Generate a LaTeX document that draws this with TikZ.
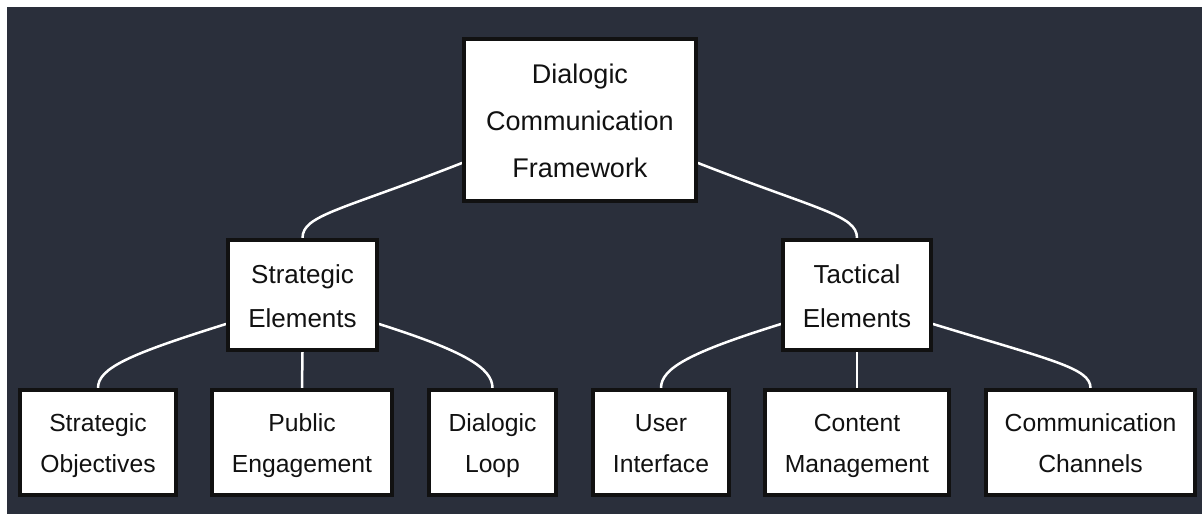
\documentclass[tikz,border=0pt]{standalone}
\usepackage{fontspec}
\setmainfont{Liberation Sans}
\usetikzlibrary{backgrounds}
\definecolor{canvas}{RGB}{42,47,59}
\definecolor{ink}{RGB}{17,17,17}
% struts that fix the first-line height and last-line depth of each label
\newcommand\leafup{\rule{0pt}{24.5pt}}
\newcommand\leafdown{\rule[-5.5pt]{0pt}{5.5pt}}
\newcommand\bigup{\rule{0pt}{26pt}}
\newcommand\bigdown{\rule[-6pt]{0pt}{6pt}}
\begin{document}
\begin{tikzpicture}[x=1pt,y=-1pt,
  box/.style={draw=ink, fill=white, line width=4pt, align=center, inner sep=0pt, text=ink},
  rootbox/.style={box, font=\fontsize{27}{47}\selectfont},
  midbox/.style={box, font=\fontsize{26}{44}\selectfont, minimum height=110pt},
  leafbox/.style={box, font=\fontsize{24.7}{41}\selectfont, minimum height=105pt},
  link/.style={draw=white, line width=2.5pt, line cap=round}]
\useasboundingbox (0,0) rectangle (1202,514);

% framework root
\node[rootbox, minimum width=232pt, minimum height=162pt] (root) at (580,120)
  {\bigup Dialogic\\Communication\\Framework\bigdown};

% second level
\node[midbox, minimum width=149pt] (strat) at (302.5,295) {\bigup Strategic\\Elements\bigdown};
\node[midbox, minimum width=148pt] (tact) at (857,295) {\bigup Tactical\\Elements\bigdown};

% leaves
\node[leafbox, minimum width=156pt] (obj) at (98,442.5) {\leafup Strategic\\Objectives\leafdown};
\node[leafbox, minimum width=180pt] (pub) at (302,442.5) {\leafup Public\\Engagement\leafdown};
\node[leafbox, minimum width=127pt] (loop) at (492.5,442.5) {\leafup Dialogic\\Loop\leafdown};
\node[leafbox, minimum width=136pt] (ui) at (661,442.5) {\leafup User\\Interface\leafdown};
\node[leafbox, minimum width=184pt] (cm) at (857,442.5) {\leafup Content\\Management\leafdown};
\node[leafbox, minimum width=209pt] (cc) at (1090.5,442.5) {\leafup Communication\\Channels\leafdown};

\begin{pgfonlayer}{background}
  \fill[white] (0,0) rectangle (1202,514);
  \fill[canvas] (7,7) rectangle (1202,514);

  \draw[link] ([yshift=-43pt]root.west) .. controls +(-120,47) and +(0,-23) .. (strat.north);
  \draw[link] ([yshift=-43pt]root.east) .. controls +(120,47) and +(0,-23) .. (tact.north);

  \draw[link] ([yshift=-29pt]strat.west) .. controls +(-96,30) and +(0,-20) .. (obj.north);
  \draw[link] (strat.south) -- (pub.north);
  \draw[link] ([yshift=-29pt]strat.east) .. controls +(85,27) and +(0,-20) .. (loop.north);

  \draw[link] ([yshift=-29pt]tact.west) .. controls +(-90,28) and +(0,-20) .. (ui.north);
  \draw[link] (tact.south) -- (cm.north);
  \draw[link] ([yshift=-29pt]tact.east) .. controls +(118,36) and +(0,-20) .. (cc.north);
\end{pgfonlayer}
\end{tikzpicture}
\end{document}
